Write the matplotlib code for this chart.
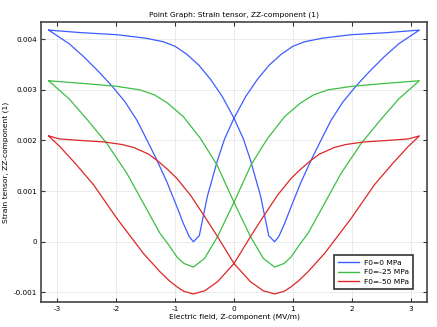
import matplotlib.pyplot as plt

plt.rcParams['font.family'] = 'DejaVu Sans'
plt.rcParams['axes.unicode_minus'] = False

# Butterfly loops: ascending sweep (E from -3.15 to 3.15) and descending sweep back
# E in MV/m, strain ZZ-component (1)

# F0 = 0 MPa
e_up_0 = [-3.15, -2.6, -2.0, -1.5, -1.2, -1.0, -0.8, -0.6, -0.4, -0.2, 0.0, 0.16,
          0.28, 0.45, 0.59, 0.69, 0.76, 0.86, 0.97, 1.14, 1.31, 1.48, 1.65, 1.85,
          2.07, 2.3, 2.55, 2.8, 3.15]
s_up_0 = [0.00418, 0.00413, 0.00409, 0.00402, 0.00395, 0.00386, 0.00370, 0.00349,
          0.00321, 0.00287, 0.00244, 0.00203, 0.00161, 0.00091, 0.00012, 0.00000,
          0.00010, 0.00036, 0.00069, 0.00118, 0.00161, 0.00201, 0.00240, 0.00276,
          0.00307, 0.00336, 0.00365, 0.00391, 0.00418]

# F0 = -25 MPa
e_up_25 = [-3.15, -2.5, -2.0, -1.6, -1.35, -1.13, -0.86, -0.57, -0.29, 0.0, 0.28, 0.5,
           0.69, 0.85, 0.97, 1.1, 1.26, 1.54, 1.82, 2.16, 2.5, 2.8, 3.15]
s_up_25 = [0.00318, 0.00312, 0.00307, 0.00300, 0.00290, 0.00274, 0.00247, 0.00204,
           0.00152, 0.00078, 0.00010, -0.00033, -0.00050, -0.00043, -0.00030,
           -0.00008, 0.00017, 0.00076, 0.00135, 0.00194, 0.00242, 0.00282, 0.00318]

# F0 = -50 MPa
e_up_50 = [-3.15, -2.96, -2.6, -2.2, -1.9, -1.7, -1.45, -1.3, -1.13, -0.97, -0.74,
           -0.5, -0.29, 0.0, 0.28, 0.5, 0.69, 0.85, 0.97, 1.1, 1.26, 1.54, 1.99,
           2.39, 2.7, 2.96, 3.15]
s_up_50 = [0.00209, 0.00203, 0.00200, 0.00197, 0.00192, 0.00186, 0.00173, 0.00160,
           0.00143, 0.00125, 0.00092, 0.00050, 0.00012, -0.00043, -0.00079,
           -0.00097, -0.00103, -0.00098, -0.00089, -0.00077, -0.00059, -0.00023,
           0.00046, 0.00113, 0.00155, 0.00188, 0.00209]

labels = ['F0=0 MPa', 'F0=-25 MPa', 'F0=-50 MPa']
colors = ['#3d5cff', '#3cbf44', '#dd2626']

x_ticks = [-3, -2, -1, 0, 1, 2, 3]
y_ticks = [-0.001, 0, 0.001, 0.002, 0.003, 0.004]
y_tick_labels = ['-0.001', '0', '0.001', '0.002', '0.003', '0.004']

fig = plt.figure(figsize=(4.37, 3.27), dpi=100)
ax = fig.add_axes([41 / 437, 25 / 327, 386 / 437, 280 / 327])

for e_up, s_up, lab, col in zip([e_up_0, e_up_25, e_up_50],
                                [s_up_0, s_up_25, s_up_50], labels, colors):
    # descending sweep is the mirror image of the ascending one: S_down(E) = S_up(-E)
    e_loop = list(e_up) + [-v for v in e_up]
    s_loop = list(s_up) + list(s_up)
    ax.plot(e_loop, s_loop, color=col, lw=0.9, label=lab)

ax.set_xlim(-3.28, 3.28)
ax.set_ylim(-0.00119, 0.00434)
ax.set_xticks(x_ticks)
ax.set_xticklabels([str(t) for t in x_ticks])
ax.set_yticks(y_ticks)
ax.set_yticklabels(y_tick_labels)
ax.grid(True, color='#e8e8e8', lw=0.6)
ax.set_axisbelow(True)

ax.tick_params(direction='in', length=3, width=0.8, color='#333333',
               labelsize=5.2, top=True, right=True, pad=3)
for sp in ax.spines.values():
    sp.set_color('#444444')
    sp.set_linewidth(1.2)

ax.set_title('Point Graph: Strain tensor, ZZ-component (1)', fontsize=5.4, pad=4)
ax.set_xlabel('Electric field, Z-component (MV/m)', fontsize=5.4, labelpad=1)
ax.set_ylabel('Strain tensor, ZZ-component (1)', fontsize=5.4, labelpad=3)

leg = ax.legend(loc='lower right', bbox_to_anchor=(0.974, 0.032), fontsize=5.4,
                fancybox=False, framealpha=1, handlelength=2.8, labelspacing=0.45,
                borderpad=0.6, handletextpad=0.6)
leg.get_frame().set_edgecolor('#333333')
leg.get_frame().set_linewidth(1.2)
for line in leg.get_lines():
    line.set_linewidth(1.0)

fig.savefig('out.png', dpi=100)
